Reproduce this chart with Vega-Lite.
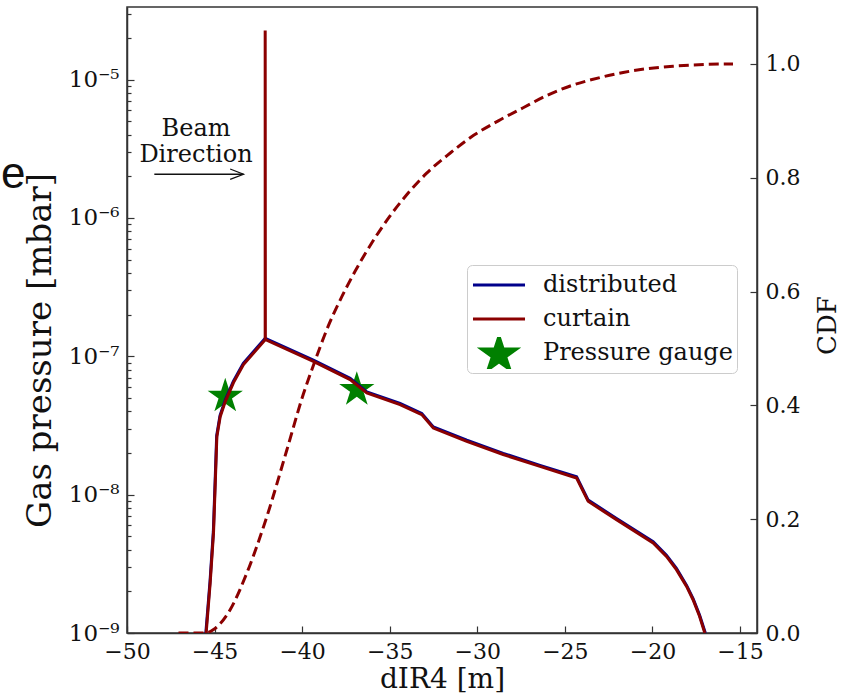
{
  "$schema": "https://vega.github.io/schema/vega-lite/v6.json",
  "width": 630,
  "height": 626,
  "autosize": {"type": "none"},
  "padding": {"left": 127, "top": 7, "right": 91, "bottom": 60},
  "background": "white",
  "config": {
    "font": "DejaVu Serif",
    "style": {"guide-label": {"font": "DejaVu Serif"}, "guide-title": {"font": "DejaVu Serif"}},
    "view": {"stroke": "#333333", "strokeWidth": 1.5},
    "axis": {
      "grid": false,
      "domainColor": "#333333",
      "domainWidth": 1.5,
      "tickColor": "#333333",
      "tickWidth": 1.2,
      "labelFont": "DejaVu Serif",
      "labelColor": "#111111",
      "labelFontSize": 22,
      "titleFont": "DejaVu Serif",
      "titleFontWeight": "normal",
      "titleColor": "#111111"
    },
    "legend": {"labelFont": "DejaVu Serif"}
  },
  "datasets": {
    "red": [
      {"x": -45.48, "p": 1.0e-9, "o": 1, "series": "curtain"},
      {"x": -45.25, "p": 2.31e-9, "o": 2, "series": "curtain"},
      {"x": -45.06, "p": 5.31e-9, "o": 3, "series": "curtain"},
      {"x": -44.96, "p": 1.22e-8, "o": 4, "series": "curtain"},
      {"x": -44.87, "p": 2.62e-8, "o": 5, "series": "curtain"},
      {"x": -44.68, "p": 3.66e-8, "o": 6, "series": "curtain"},
      {"x": -44.39, "p": 4.71e-8, "o": 7, "series": "curtain"},
      {"x": -43.92, "p": 6.46e-8, "o": 8, "series": "curtain"},
      {"x": -43.35, "p": 8.71e-8, "o": 9, "series": "curtain"},
      {"x": -42.11, "p": 1.32e-7, "o": 10, "series": "curtain"},
      {"x": -42.11, "p": 2.27e-5, "o": 11, "series": "curtain"},
      {"x": -42.10, "p": 1.32e-7, "o": 12, "series": "curtain"},
      {"x": -39.36, "p": 9.2e-8, "o": 13, "series": "curtain"},
      {"x": -37.26, "p": 6.79e-8, "o": 14, "series": "curtain"},
      {"x": -36.31, "p": 5.43e-8, "o": 15, "series": "curtain"},
      {"x": -34.41, "p": 4.48e-8, "o": 16, "series": "curtain"},
      {"x": -33.17, "p": 3.79e-8, "o": 17, "series": "curtain"},
      {"x": -32.51, "p": 3.03e-8, "o": 18, "series": "curtain"},
      {"x": -30.6, "p": 2.43e-8, "o": 19, "series": "curtain"},
      {"x": -28.52, "p": 1.95e-8, "o": 20, "series": "curtain"},
      {"x": -26.42, "p": 1.6e-8, "o": 21, "series": "curtain"},
      {"x": -24.33, "p": 1.32e-8, "o": 22, "series": "curtain"},
      {"x": -23.67, "p": 8.95e-9, "o": 23, "series": "curtain"},
      {"x": -22.05, "p": 6.6e-9, "o": 24, "series": "curtain"},
      {"x": -19.96, "p": 4.48e-9, "o": 25, "series": "curtain"},
      {"x": -19.2, "p": 3.58e-9, "o": 26, "series": "curtain"},
      {"x": -18.63, "p": 2.87e-9, "o": 27, "series": "curtain"},
      {"x": -18.05, "p": 2.17e-9, "o": 28, "series": "curtain"},
      {"x": -17.68, "p": 1.74e-9, "o": 29, "series": "curtain"},
      {"x": -17.31, "p": 1.32e-9, "o": 30, "series": "curtain"},
      {"x": -17.01, "p": 1.0e-9, "o": 31, "series": "curtain"}
    ],
    "blue": [
      {"x": -45.5, "p": 1.0e-9, "o": 1, "series": "distributed"},
      {"x": -45.26, "p": 2.36e-9, "o": 2, "series": "distributed"},
      {"x": -45.07, "p": 5.42e-9, "o": 3, "series": "distributed"},
      {"x": -44.97, "p": 1.24e-8, "o": 4, "series": "distributed"},
      {"x": -44.88, "p": 2.67e-8, "o": 5, "series": "distributed"},
      {"x": -44.69, "p": 3.73e-8, "o": 6, "series": "distributed"},
      {"x": -44.4, "p": 4.8e-8, "o": 7, "series": "distributed"},
      {"x": -43.93, "p": 6.59e-8, "o": 8, "series": "distributed"},
      {"x": -43.36, "p": 8.88e-8, "o": 9, "series": "distributed"},
      {"x": -42.11, "p": 1.35e-7, "o": 10, "series": "distributed"},
      {"x": -39.36, "p": 9.38e-8, "o": 11, "series": "distributed"},
      {"x": -37.26, "p": 6.93e-8, "o": 12, "series": "distributed"},
      {"x": -36.31, "p": 5.54e-8, "o": 13, "series": "distributed"},
      {"x": -34.41, "p": 4.57e-8, "o": 14, "series": "distributed"},
      {"x": -33.17, "p": 3.87e-8, "o": 15, "series": "distributed"},
      {"x": -32.51, "p": 3.09e-8, "o": 16, "series": "distributed"},
      {"x": -30.6, "p": 2.48e-8, "o": 17, "series": "distributed"},
      {"x": -28.52, "p": 1.99e-8, "o": 18, "series": "distributed"},
      {"x": -26.42, "p": 1.63e-8, "o": 19, "series": "distributed"},
      {"x": -24.33, "p": 1.35e-8, "o": 20, "series": "distributed"},
      {"x": -23.67, "p": 9.13e-9, "o": 21, "series": "distributed"},
      {"x": -22.05, "p": 6.73e-9, "o": 22, "series": "distributed"},
      {"x": -19.96, "p": 4.57e-9, "o": 23, "series": "distributed"},
      {"x": -19.2, "p": 3.65e-9, "o": 24, "series": "distributed"},
      {"x": -18.63, "p": 2.93e-9, "o": 25, "series": "distributed"},
      {"x": -18.05, "p": 2.21e-9, "o": 26, "series": "distributed"},
      {"x": -17.68, "p": 1.77e-9, "o": 27, "series": "distributed"},
      {"x": -17.31, "p": 1.35e-9, "o": 28, "series": "distributed"},
      {"x": -16.98, "p": 1.0e-9, "o": 29, "series": "distributed"}
    ],
    "stars": [
      {"x": -44.39, "p": 5.28e-8, "series": "Pressure gauge"},
      {"x": -36.88, "p": 5.9e-8, "series": "Pressure gauge"}
    ],
    "cdf": [
      {"x": -47.06, "cdf": 0},
      {"x": -45.53, "cdf": 0},
      {"x": -45.06, "cdf": 0.006},
      {"x": -44.11, "cdf": 0.041},
      {"x": -43.15, "cdf": 0.106},
      {"x": -42.01, "cdf": 0.205},
      {"x": -40.87, "cdf": 0.322},
      {"x": -39.93, "cdf": 0.42},
      {"x": -39.36, "cdf": 0.47},
      {"x": -38.5, "cdf": 0.54},
      {"x": -37.83, "cdf": 0.585},
      {"x": -36.97, "cdf": 0.636},
      {"x": -35.93, "cdf": 0.69},
      {"x": -34.98, "cdf": 0.733},
      {"x": -34.03, "cdf": 0.77},
      {"x": -32.89, "cdf": 0.808},
      {"x": -31.56, "cdf": 0.843},
      {"x": -30.23, "cdf": 0.874},
      {"x": -28.8, "cdf": 0.9},
      {"x": -27.38, "cdf": 0.923},
      {"x": -26.0, "cdf": 0.945},
      {"x": -24.52, "cdf": 0.963},
      {"x": -23.0, "cdf": 0.976},
      {"x": -21.67, "cdf": 0.985},
      {"x": -20.2, "cdf": 0.992},
      {"x": -18.82, "cdf": 0.996},
      {"x": -17.0, "cdf": 0.999},
      {"x": -15.4, "cdf": 1.0}
    ],
    "ann": [
      {"x": -46.06, "p": 3.94e-6, "text": "Beam"},
      {"x": -46.06, "p": 2.53e-6, "text": "Direction"}
    ],
    "panel": [
      {"x": -56.5, "p": 1.66e-6, "text": "e"}
    ],
    "arrow": [
      {"x": -48.44, "p": 2.07e-6, "part": "shaft", "o": 1},
      {"x": -43.35, "p": 2.07e-6, "part": "shaft", "o": 2},
      {"x": -44.11, "p": 2.26e-6, "part": "head", "o": 1},
      {"x": -43.35, "p": 2.07e-6, "part": "head", "o": 2},
      {"x": -44.11, "p": 1.9e-6, "part": "head", "o": 3}
    ]
  },
  "encoding": {
    "x": {
      "field": "x",
      "type": "quantitative",
      "scale": {"domain": [-50, -14.03], "nice": false, "zero": false},
      "axis": {
        "values": [-50, -45, -40, -35, -30, -25, -20, -15],
        "format": "d",
        "tickSize": -7,
        "labelPadding": 15,
        "labelFlush": false,
        "title": "dIR4 [m]",
        "titleFontSize": 28,
        "titleX": 315,
        "titleY": 54,
        "titleBaseline": "alphabetic",
        "titleAlign": "center"
      }
    }
  },
  "layer": [
    {
      "encoding": {
        "y": {
          "field": "p",
          "type": "quantitative",
          "scale": {"type": "log", "domain": [1e-9, 3.35e-5], "nice": false},
          "axis": {
            "values": [1e-9, 2e-9, 3e-9, 4e-9, 5e-9, 6e-9, 7e-9, 8e-9, 9e-9, 1e-8, 2e-8, 3e-8, 4e-8, 5e-8, 6e-8, 7e-8, 8e-8, 9e-8, 1e-7, 2e-7, 3e-7, 4e-7, 5e-7, 6e-7, 7e-7, 8e-7, 9e-7, 1e-6, 2e-6, 3e-6, 4e-6, 5e-6, 6e-6, 7e-6, 8e-6, 9e-6, 1e-5, 2e-5, 3e-5],
            "labelExpr": "abs(log(datum.value)/LN10 - round(log(datum.value)/LN10)) < 0.001 ? '10⁻' + ['⁰','¹','²','³','⁴','⁵','⁶','⁷','⁸','⁹'][-round(log(datum.value)/LN10)] : ''",
            "tickSize": {"condition": {"test": "abs(log(datum.value)/LN10 - round(log(datum.value)/LN10)) < 0.001", "value": -7}, "value": -4},
            "labelPadding": 15,
            "labelFontSize": 23,
            "labelBaseline": "middle",
            "labelFlush": false,
            "labelOverlap": false,
            "title": "Gas pressure [mbar]",
            "titleFontSize": 34,
            "titleAngle": 270,
            "titleX": -77,
            "titleY": 343,
            "titleAlign": "center",
            "titleBaseline": "alphabetic"
          }
        }
      },
      "layer": [
        {
          "data": {"name": "stars"},
          "mark": {"type": "point", "filled": true, "size": 433, "opacity": 1},
          "encoding": {
            "color": {
              "field": "series",
              "type": "nominal",
              "scale": {"domain": ["distributed", "curtain", "Pressure gauge"], "range": ["#00008b", "#8b0000", "#008000"]},
              "legend": {
                "title": null,
                "orient": "none",
                "legendX": 340,
                "legendY": 258,
                "padding": 4,
                "strokeColor": "#cccccc",
                "fillColor": "#ffffff",
                "cornerRadius": 5,
                "labelFont": "DejaVu Serif",
                "labelFontSize": 24,
                "labelColor": "#111111",
                "labelLimit": 400,
                "symbolSize": 433,
                "symbolStrokeWidth": 3,
                "clipHeight": 32,
                "rowPadding": 2,
                "symbolOffset": 16,
                "labelOffset": 32,
                "encode": {"symbols": {"update": {"stroke": {"scale": "color", "field": "value"}, "fill": {"scale": "color", "field": "value"}, "strokeWidth": [{"test": "datum.value === 'Pressure gauge'", "value": 0}, {"value": 3}], "opacity": {"value": 1}}}, "labels": {"update": {"font": {"value": "DejaVu Serif"}, "fontSize": {"value": 24}}}}
              }
            },
            "shape": {
              "field": "series",
              "type": "nominal",
              "scale": {"domain": ["distributed", "curtain", "Pressure gauge"], "range": ["M-2.5,0L2.5,0", "M-2.5,0L2.5,0", "M0,-1.62L0.4,-0.39L1.693,-0.39L0.647,0.37L1.047,1.6L0,0.84L-1.047,1.6L-0.647,0.37L-1.693,-0.39L-0.4,-0.39Z"]},
              "legend": {
                "title": null,
                "orient": "none",
                "legendX": 340,
                "legendY": 258,
                "padding": 4,
                "strokeColor": "#cccccc",
                "fillColor": "#ffffff",
                "cornerRadius": 5,
                "labelFont": "DejaVu Serif",
                "labelFontSize": 24,
                "labelColor": "#111111",
                "labelLimit": 400,
                "symbolSize": 433,
                "symbolStrokeWidth": 3,
                "clipHeight": 32,
                "rowPadding": 2,
                "symbolOffset": 16,
                "labelOffset": 32,
                "encode": {"symbols": {"update": {"stroke": {"scale": "color", "field": "value"}, "fill": {"scale": "color", "field": "value"}, "strokeWidth": [{"test": "datum.value === 'Pressure gauge'", "value": 0}, {"value": 3}], "opacity": {"value": 1}}}, "labels": {"update": {"font": {"value": "DejaVu Serif"}, "fontSize": {"value": 24}}}}
              }
            }
          }
        },
        {
          "data": {"name": "blue"},
          "mark": {"type": "line", "strokeWidth": 3, "clip": true},
          "encoding": {
            "color": {"field": "series", "type": "nominal"},
            "order": {"field": "o", "type": "quantitative"}
          }
        },
        {
          "data": {"name": "red"},
          "mark": {"type": "line", "strokeWidth": 3, "clip": true},
          "encoding": {
            "color": {"field": "series", "type": "nominal"},
            "order": {"field": "o", "type": "quantitative"}
          }
        },
        {
          "data": {"name": "ann"},
          "mark": {"type": "text", "font": "DejaVu Serif", "fontSize": 24, "color": "#111111", "align": "center", "baseline": "alphabetic"},
          "encoding": {"text": {"field": "text"}}
        },
        {
          "data": {"name": "panel"},
          "mark": {"type": "text", "font": "Liberation Sans", "fontSize": 44, "color": "#111111", "align": "center", "baseline": "alphabetic"},
          "encoding": {"text": {"field": "text"}}
        },
        {
          "data": {"name": "arrow"},
          "mark": {"type": "line", "color": "#111111", "strokeWidth": 1.3},
          "encoding": {
            "detail": {"field": "part"},
            "order": {"field": "o", "type": "quantitative"}
          }
        }
      ]
    },
    {
      "data": {"name": "cdf"},
      "mark": {"type": "line", "color": "#8b0000", "strokeWidth": 3, "strokeDash": [10, 5], "interpolate": "monotone", "clip": true},
      "encoding": {
        "y": {
          "field": "cdf",
          "type": "quantitative",
          "scale": {"domain": [0, 1.1], "nice": false, "zero": false},
          "axis": {
            "orient": "right",
            "values": [0, 0.2, 0.4, 0.6, 0.8, 1.0],
            "format": ".1f",
            "tickSize": -7,
            "labelPadding": 15,
            "labelFlush": false,
            "labelBaseline": "middle",
            "title": "CDF",
            "titleFontSize": 26,
            "titleAngle": 270,
            "titleX": 78,
            "titleY": 318,
            "titleAlign": "center",
            "titleBaseline": "alphabetic"
          }
        }
      }
    }
  ],
  "resolve": {"scale": {"y": "independent"}}
}
